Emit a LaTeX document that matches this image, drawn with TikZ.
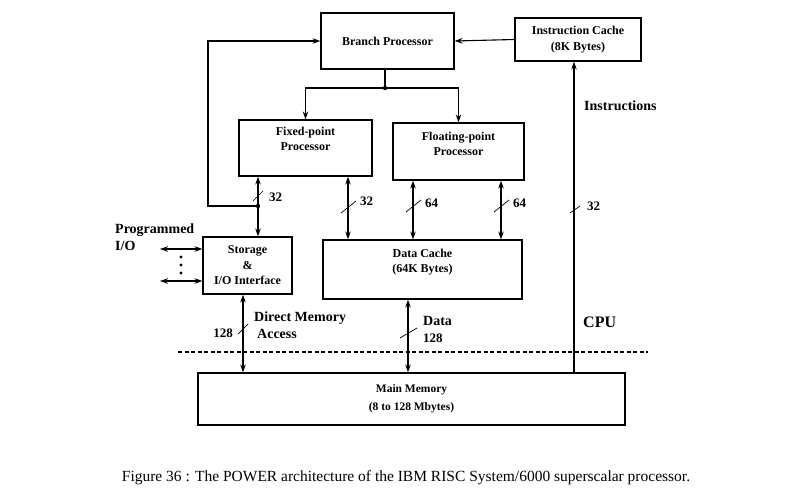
\documentclass[tikz,border=0pt]{standalone}
\usepackage{fontspec}
\setmainfont{Liberation Serif}
\usetikzlibrary{calc, positioning, arrows.meta}

\begin{document}
\begin{tikzpicture}[x=1pt, y=-1pt,
		tip/.tip={Stealth[length=8pt, width=5.5pt]},
		unit/.style={draw, line width=1.2pt, inner sep=0pt, align=center, font=\bfseries\fontsize{12}{15.5}\selectfont},
		unittext/.style={inner sep=0pt, align=center, font=\bfseries\fontsize{12}{15.5}\selectfont},
		bigtext/.style={inner sep=0pt, font=\bfseries\fontsize{14}{16}\selectfont},
		bits/.style={inner sep=0pt, font=\bfseries\fontsize{13}{15}\selectfont},
		bus/.style={line width=1.1pt, tip-tip},
		link/.style={line width=1.1pt, -tip}]
	\useasboundingbox (0,0) rectangle (800,500);
	
	\node [unit, minimum width=133pt, minimum height=56pt] (branch) at (387.5,41) {Branch Processor};
	\node [unit, minimum width=126pt, minimum height=43pt] (icache) at (578,39.5) {Instruction Cache\\(8K Bytes)};
	\node [unit, minimum width=133pt, minimum height=56pt] (fixed) at (305.5,148) {};
	\node [unit, minimum width=131pt, minimum height=57pt] (float) at (458.5,151.5) {};
	\node [unit, minimum width=89pt, minimum height=57pt] (storage) at (247.5,265.5) {Storage\\\&\\I/O Interface};
	\node [unit, minimum width=199pt, minimum height=59pt] (dcache) at (422.5,269.5) {};
	\node [unit, minimum width=427pt, minimum height=52pt, font=\bfseries\fontsize{11.5}{18}\selectfont] (mainmem) at (411.5,399) {Main Memory\\(8 to 128 Mbytes)};
	
	\node [unittext] (fixed text) at (305.5,139) {Fixed-point\\Processor};
	\node [unittext] (float text) at (458.5,144) {Floating-point\\Processor};
	\node [unittext] (dcache text) at (422.5,262) {Data Cache\\(64K Bytes)};
	
	% branch unit feeds both processors
	\coordinate (split) at (385,88);
	\draw [line width=1.1pt] (branch.south -| split) -- (split);
	\draw [link] (split) -| (fixed.north);
	\draw [link] (split) -| (float.north);
	\fill (split) circle (2.2);
	\draw [link] (icache.west) -- (branch.east);
	
	% fixed-point to storage, with the loop back to the branch unit
	\coordinate (fs) at (258,206);
	\coordinate (loop) at (208,0);
	\draw [bus] (fs |- fixed.south) -- (fs |- storage.north);
	\draw [link] (fs) -- (fs -| loop) |- (branch.west);
	\fill (fs) circle (2.2);
	\draw [line width=0.7pt] ($(fs)+(-5,-5)$) -- ++(10,-10);
	\node [bits, anchor=west] (fs bits) at (269,197) {32};
	
	\coordinate (fd) at (348,208);
	\draw [bus] (fd |- fixed.south) -- (fd |- dcache.north);
	\draw [line width=0.7pt] ($(fd)+(-7,5)$) -- ++(15,-12);
	\node [bits, anchor=west] (fd bits) at (360,201) {32};
	
	\coordinate (fl a) at (413,206);
	\draw [bus] (fl a |- float.south) -- (fl a |- dcache.north);
	\draw [line width=0.7pt] ($(fl a)+(-7,6)$) -- ++(15,-12);
	\node [bits, anchor=west] (fl a bits) at (425,203) {64};
	
	\coordinate (fl b) at (501,206);
	\draw [bus] (fl b |- float.south) -- (fl b |- dcache.north);
	\draw [line width=0.7pt] ($(fl b)+(-7,6)$) -- ++(15,-12);
	\node [bits, anchor=west] (fl b bits) at (513,203) {64};
	
	% programmed I/O
	\node [bigtext, anchor=west] (prog) at (115,230) {Programmed};
	\node [bigtext, anchor=west] (io) at (115,246) {I/O};
	\coordinate (io top) at (160,249);
	\coordinate (io bottom) at (160,281);
	\draw [bus] (io top) -- (io top -| storage.west);
	\draw [bus] (io bottom) -- (io bottom -| storage.west);
	\foreach \y in {257,265,273}
		\fill (181,\y) circle (1.6);
	
	% memory side
	\coordinate (sm) at (243,329);
	\draw [bus] (sm |- storage.south) -- (sm |- mainmem.north);
	\draw [line width=0.7pt] ($(sm)+(-5,5)$) -- ++(10,-10);
	\node [bits, anchor=east] (sm bits) at (233,333) {128};
	\node [bigtext, anchor=west] (dma a) at (254,318) {Direct Memory};
	\node [bigtext, anchor=west] (dma b) at (257,334) {Access};
	
	\coordinate (dm) at (408,333);
	\draw [bus] (dm |- dcache.south) -- (dm |- mainmem.north);
	\draw [line width=0.7pt] ($(dm)+(-8,5)$) -- ++(17,-10);
	\node [bigtext, anchor=west] (data) at (423,321) {Data};
	\node [bits, anchor=west] (dm bits) at (423,338) {128};
	
	% instruction path
	\coordinate (ins) at (574,209);
	\draw [link] (ins |- mainmem.north) -- (ins |- icache.south);
	\draw [line width=0.7pt] ($(ins)+(-4,4)$) -- ++(10,-7);
	\node [bits, anchor=west] (ins bits) at (587,206) {32};
	\node [bigtext, anchor=west] (instr) at (584,106) {Instructions};
	\node [bigtext, anchor=west, font=\bfseries\fontsize{16}{18}\selectfont] (cpu) at (583,322) {CPU};
	
	\draw [line width=1.1pt, dash pattern=on 4pt off 2.5pt] (178,352) -- (648,352);
	
	\node [inner sep=0pt, font=\fontsize{15.5}{17}\selectfont] (caption) at (406,478) {Figure 36 : The POWER architecture of the IBM RISC System/6000 superscalar processor.};
\end{tikzpicture}
\end{document}
